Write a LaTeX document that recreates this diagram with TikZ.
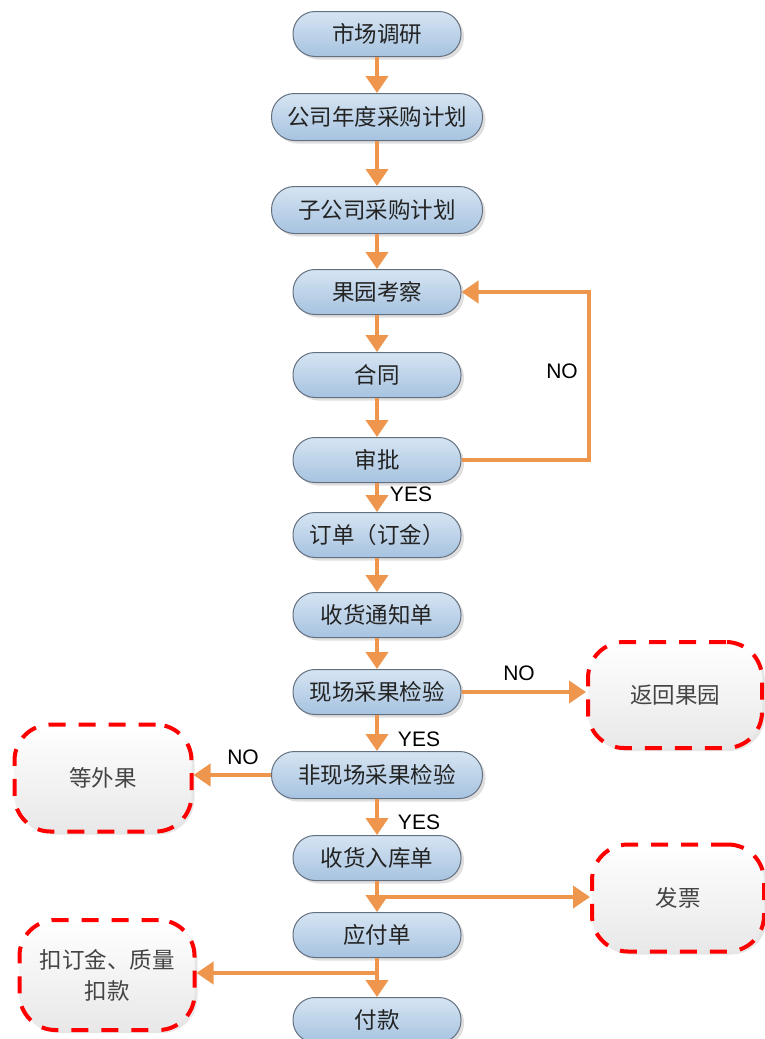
\documentclass[tikz,border=0pt]{standalone}
\usepackage{fontspec}
\setmainfont{Liberation Sans}
\newfontfamily\cjk{Noto Sans CJK SC}
\usetikzlibrary{arrows.meta,shadows}
\definecolor{arrowor}{RGB}{238,150,78}
\definecolor{boxtop}{RGB}{214,228,242}
\definecolor{boxbot}{RGB}{166,195,224}
\definecolor{boxline}{RGB}{100,112,128}
\definecolor{dashred}{RGB}{255,0,0}
\definecolor{txt}{RGB}{35,35,35}
\begin{document}
\begin{tikzpicture}[x=1pt,y=-1pt,
  procbox/.style={rounded corners=22pt, minimum height=45pt, minimum width=168pt, inner sep=0pt,
    draw=boxline, line width=1pt, top color=boxtop, bottom color=boxbot,
    drop shadow={opacity=0.25, shadow xshift=3pt, shadow yshift=-3pt},
    font=\cjk\fontsize{22.5}{26}\selectfont, text=txt},
  widebox/.style={procbox, minimum width=211pt, minimum height=47pt, rounded corners=23pt},
  endbox/.style={rounded corners=36pt, minimum width=174pt, minimum height=106pt, inner sep=0pt,
    draw=dashred, line width=4pt, dash pattern=on 17pt off 13pt, top color=white, bottom color=black!9,
    drop shadow={opacity=0.2, shadow xshift=3pt, shadow yshift=-3pt},
    font=\cjk\fontsize{22.5}{31}\selectfont, text=txt!85, align=center},
  arr/.style={draw=arrowor, line width=4pt, -{Triangle[width=22pt,length=17pt]}, arrowor},
  lbl/.style={font=\fontsize{21}{24}\selectfont, text=black, inner sep=0pt}
]
\useasboundingbox (0,0) rectangle (764,1039);

\node[procbox] (n1) at (377,34) {市场调研};
\node[widebox] (n2) at (377,117) {公司年度采购计划};
\node[widebox] (n3) at (377,210) {子公司采购计划};
\node[procbox] (n4) at (377,292) {果园考察};
\node[procbox] (n5) at (377,375) {合同};
\node[procbox] (n6) at (377,460) {审批};
\node[procbox] (n7) at (377,535) {订单（订金）};
\node[procbox] (n8) at (377,615) {收货通知单};
\node[procbox] (n9) at (377,692) {现场采果检验};
\node[widebox] (n10) at (377,775) {非现场采果检验};
\node[procbox] (n11) at (377,858) {收货入库单};
\node[procbox] (n12) at (377,935) {应付单};
\node[procbox] (n13) at (377,1020) {付款};

\node[endbox] (r1) at (675,695) {返回果园};
\node[endbox, minimum width=177pt, minimum height=107pt] (r2) at (103,778) {等外果};
\node[endbox, minimum width=172pt, minimum height=107pt] (r3) at (678,898) {发票};
\node[endbox, minimum width=175pt, minimum height=110pt] (r4) at (107,975) {扣订金、质量\\扣款};

\draw[arr] (n1) -- (n2);
\draw[arr] (n2) -- (n3);
\draw[arr] (n3) -- (n4);
\draw[arr] (n4) -- (n5);
\draw[arr] (n5) -- (n6);
\draw[arr] (n6) -- (n7);
\draw[arr] (n7) -- (n8);
\draw[arr] (n8) -- (n9);
\draw[arr] (n9) -- (n10);
\draw[arr] (n10) -- (n11);
\draw[arr] (n11) -- (n12);
\draw[arr] (n12) -- (n13);

\draw[arr] (n6.east) -- ++(127,0) |- (n4.east);
\draw[arr] (n9.east) -- (n9.east -| r1.west);
\draw[arr] (n10.west) -- (n10.west -| r2.east);
\coordinate (b1) at (377,897);
\coordinate (b2) at (377,973);
\draw[arr] (b1) -- (b1 -| r3.west);
\draw[arr] (b2) -- (b2 -| r4.east);

\node[lbl] (l1) at (562,371) {NO};
\node[lbl] (l2) at (411,494) {YES};
\node[lbl] (l3) at (519,673) {NO};
\node[lbl] (l4) at (419,739) {YES};
\node[lbl] (l5) at (243,757) {NO};
\node[lbl] (l6) at (419,822) {YES};
\end{tikzpicture}
\end{document}
